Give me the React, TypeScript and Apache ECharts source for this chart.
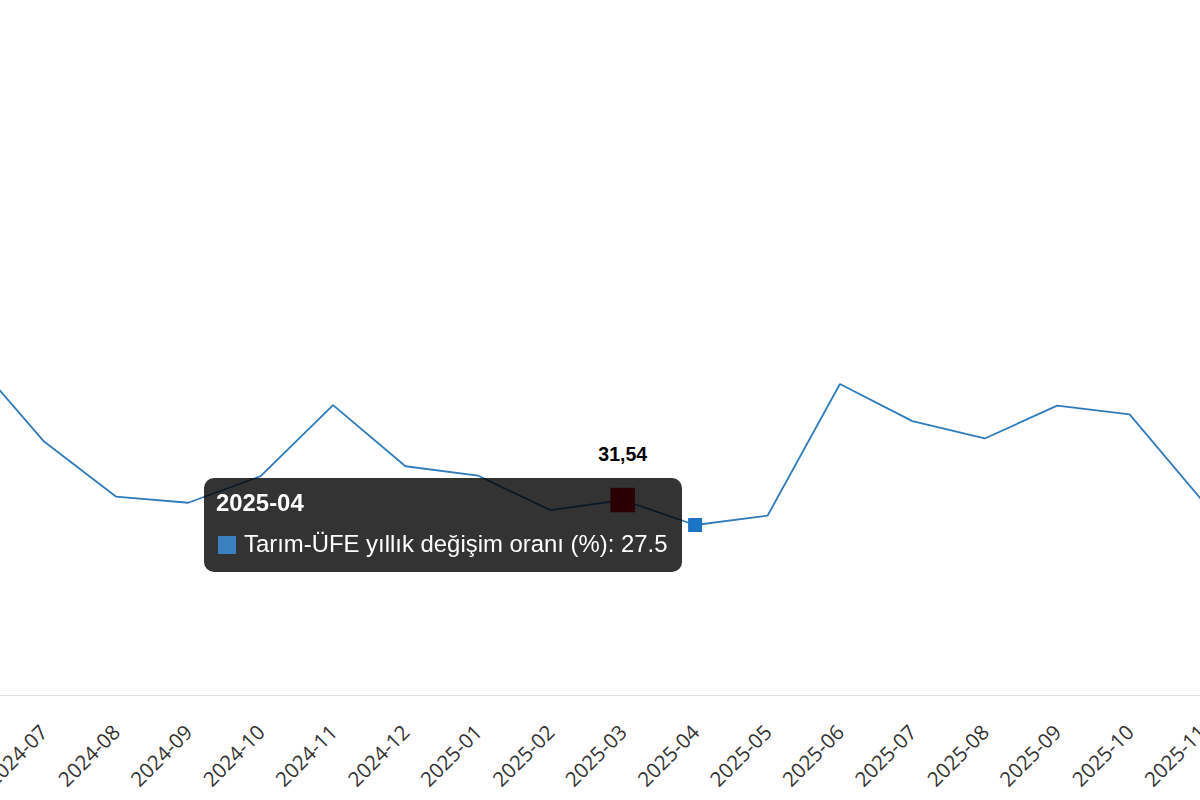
import React, { useEffect, useRef } from 'react';
import * as echarts from 'echarts';

const months = [
  '2024-06', '2024-07', '2024-08', '2024-09', '2024-10', '2024-11', '2024-12',
  '2025-01', '2025-02', '2025-03', '2025-04', '2025-05', '2025-06', '2025-07',
  '2025-08', '2025-09', '2025-10', '2025-11',
];
const values = [
  54.7, 41.1, 32.1, 31.1, 35.4, 46.9, 37.0,
  35.5, 29.9, 31.54, 27.5, 29.0, 50.3, 44.3,
  41.5, 46.8, 45.4, 31.5,
];
const seriesName = 'Tarım-ÜFE yıllık değişim oranı (%)';
const labeledMonth = '2025-03';
const tooltipMonth = '2025-04';

const LINE_COLOR = '#2f7bbb';
const MARKER_COLOR = '#3a80c1';

export default function App() {
  const ref = useRef<HTMLDivElement>(null);

  useEffect(() => {
    if (!ref.current) return;
    const chart = echarts.init(ref.current, null, { renderer: 'svg' });

    const data = values.map((v, i) => {
      if (months[i] === labeledMonth) {
        return {
          value: v,
          symbol: 'rect',
          symbolSize: 24.5,
          itemStyle: { color: '#d0021b' },
          label: {
            show: true,
            position: 'top',
            distance: 24,
            formatter: (p: any) => String(p.value).replace('.', ','),
            fontWeight: 'bold',
            fontSize: 19.5,
            color: '#000',
            fontFamily: '"Liberation Sans", Arial, sans-serif',
          },
        };
      }
      if (months[i] === tooltipMonth) {
        return {
          value: v,
          symbol: 'rect',
          symbolSize: 14,
          itemStyle: { color: '#1b74c6' },
        };
      }
      return { value: v };
    });

    chart.setOption({
      animation: false,
      grid: {
        left: 100,
        right: 100,
        top: 76.8,
        bottom: 105,
        containLabel: false,
        outerBoundsMode: 'none',
      },
      tooltip: {
        trigger: 'item',
        triggerOn: 'none',
        alwaysShowContent: true,
        transitionDuration: 0,
        backgroundColor: 'rgba(0,0,0,0.8)',
        borderWidth: 0,
        borderRadius: 10,
        padding: [4, 14, 8, 12],
        extraCssText: 'box-shadow:none;border-radius:10px;',
        textStyle: {
          color: '#fff',
          fontSize: 23.9,
          fontFamily: '"Liberation Sans", Arial, sans-serif',
        },
        position: (point: number[], _p: any, _d: any, _r: any, size: any) => [
          point[0] - size.contentSize[0] - 13.5,
          point[1] - size.contentSize[1] / 2,
        ],
        formatter: (p: any) =>
          `<div style="line-height:41px;white-space:nowrap;font-family:'Liberation Sans',Arial,sans-serif;font-size:23.9px;color:#fff;">` +
          `<div style="font-weight:bold;">${p.name}</div>` +
          `<div style="display:flex;align-items:center;">` +
          `<span style="display:inline-block;width:18px;height:18px;background:${MARKER_COLOR};margin-left:2px;margin-right:8px;margin-top:3px;"></span>` +
          `<span>${p.seriesName}: ${p.value}</span></div></div>`,
      },
      xAxis: {
        type: 'category',
        data: months,
        boundaryGap: false,
        axisLine: { lineStyle: { color: '#dddddd', width: 1 } },
        axisTick: { show: false },
        splitLine: { show: false },
        axisLabel: {
          interval: 0,
          rotate: 45,
          margin: 33,
          fontSize: 20.5,
          color: '#333',
          fontFamily: '"Open Sans", sans-serif',
        },
      },
      yAxis: {
        type: 'value',
        min: 0,
        max: 100,
        show: false,
        splitLine: { show: false },
      },
      series: [
        {
          name: seriesName,
          type: 'line',
          data,
          symbol: 'none',
          showSymbol: true,
          emphasis: { disabled: true },
          lineStyle: { color: LINE_COLOR, width: 1.8 },
          itemStyle: { color: LINE_COLOR },
        },
      ],
    });

    const idx = months.indexOf(tooltipMonth);
    chart.dispatchAction({ type: 'showTip', seriesIndex: 0, dataIndex: idx });

    return () => chart.dispose();
  }, []);

  return (
    <div
      style={{
        position: 'absolute',
        left: 0,
        top: 0,
        width: 1200,
        height: 800,
        overflow: 'hidden',
        background: '#fff',
      }}
    >
      <div
        ref={ref}
        style={{
          position: 'absolute',
          left: -129.1,
          top: 0,
          width: 1430.5,
          height: 800,
        }}
      />
    </div>
  );
}
